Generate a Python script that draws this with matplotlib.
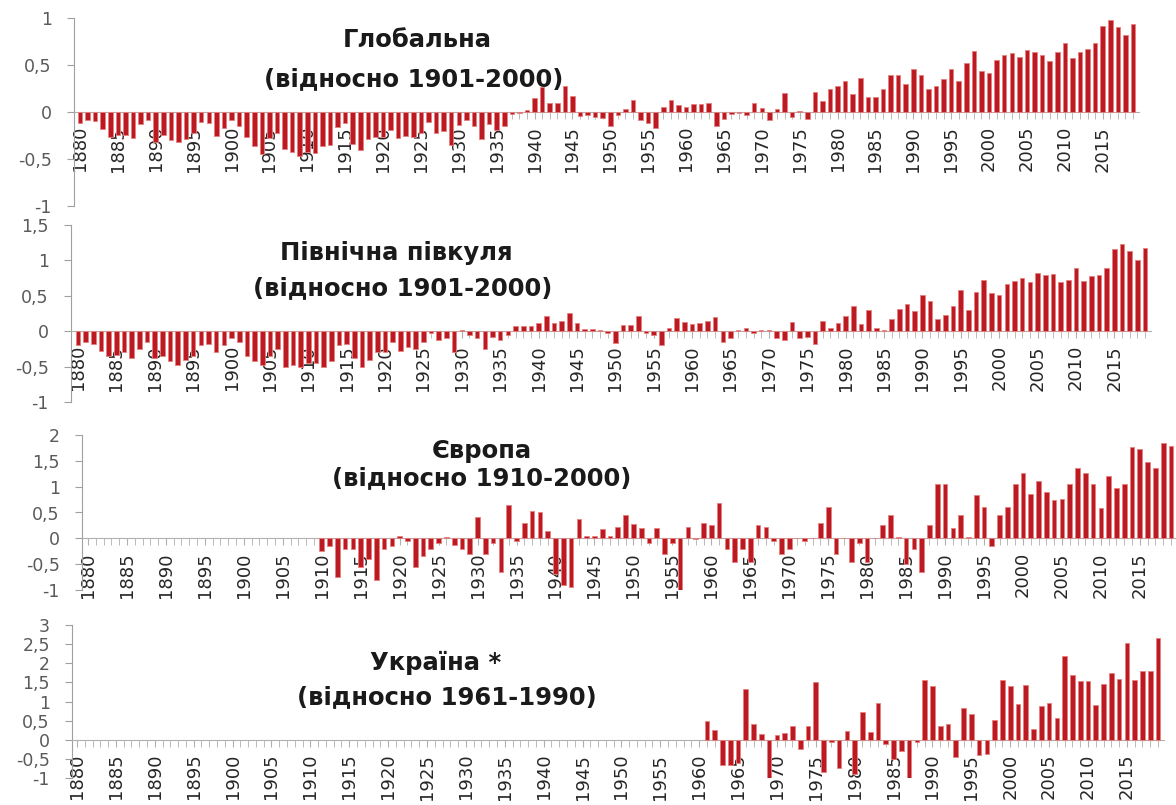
import numpy as np
import matplotlib.pyplot as plt
from matplotlib.ticker import MultipleLocator, FuncFormatter

years = np.arange(1880, 2020)

global_anom = [
    -0.12, -0.09, -0.10, -0.18, -0.27, -0.25, -0.24, -0.28, -0.13, -0.09,
    -0.32, -0.25, -0.30, -0.32, -0.29, -0.22, -0.11, -0.12, -0.26, -0.17,
    -0.08, -0.15, -0.27, -0.36, -0.45, -0.28, -0.22, -0.39, -0.43, -0.47,
    -0.43, -0.44, -0.36, -0.35, -0.16, -0.12, -0.34, -0.40, -0.29, -0.27,
    -0.27, -0.19, -0.28, -0.26, -0.27, -0.22, -0.11, -0.22, -0.20, -0.35,
    -0.14, -0.09, -0.15, -0.29, -0.13, -0.19, -0.15, -0.02, -0.01, 0.02,
    0.15, 0.27, 0.10, 0.10, 0.28, 0.17, -0.04, -0.03, -0.05, -0.06,
    -0.15, -0.03, 0.03, 0.13, -0.08, -0.12, -0.17, 0.05, 0.13, 0.07,
    0.05, 0.08, 0.09, 0.10, -0.15, -0.07, -0.02, -0.01, -0.03, 0.10,
    0.04, -0.08, 0.03, 0.20, -0.05, 0.01, -0.07, 0.21, 0.12, 0.24,
    0.28, 0.33, 0.19, 0.36, 0.16, 0.16, 0.24, 0.39, 0.39, 0.30,
    0.46, 0.39, 0.24, 0.28, 0.35, 0.46, 0.33, 0.52, 0.65, 0.44,
    0.42, 0.55, 0.61, 0.63, 0.59, 0.66, 0.64, 0.61, 0.54, 0.64,
    0.73, 0.57, 0.64, 0.67, 0.73, 0.92, 0.98, 0.90, 0.82, 0.94,
]

nh_anom = [
    -0.20, -0.15, -0.18, -0.28, -0.35, -0.33, -0.30, -0.38, -0.25, -0.15,
    -0.38, -0.35, -0.42, -0.48, -0.40, -0.35, -0.20, -0.18, -0.30, -0.20,
    -0.10, -0.15, -0.35, -0.42, -0.48, -0.35, -0.25, -0.50, -0.48, -0.50,
    -0.45, -0.45, -0.50, -0.42, -0.20, -0.18, -0.38, -0.50, -0.40, -0.30,
    -0.30, -0.15, -0.28, -0.22, -0.25, -0.15, -0.02, -0.12, -0.10, -0.30,
    0.02, -0.05, -0.10, -0.25, -0.08, -0.12, -0.05, 0.08, 0.08, 0.08,
    0.12, 0.22, 0.12, 0.15, 0.25, 0.12, 0.03, 0.03, 0.02, -0.02,
    -0.16, 0.09, 0.09, 0.22, -0.02, -0.05, -0.19, 0.05, 0.18, 0.13,
    0.10, 0.12, 0.14, 0.20, -0.15, -0.10, 0.02, 0.05, -0.02, 0.02,
    0.01, -0.10, -0.12, 0.13, -0.10, -0.08, -0.18, 0.15, 0.05, 0.12,
    0.22, 0.36, 0.10, 0.30, 0.05, 0.02, 0.17, 0.31, 0.39, 0.29,
    0.51, 0.42, 0.17, 0.23, 0.36, 0.58, 0.30, 0.55, 0.72, 0.54,
    0.51, 0.66, 0.71, 0.75, 0.70, 0.82, 0.79, 0.81, 0.69, 0.72,
    0.89, 0.71, 0.78, 0.80, 0.89, 1.16, 1.23, 1.13, 1.01, 1.17,
]

europe_years = np.arange(1910, 2020)
europe_anom = [
    -0.25, -0.15, -0.75, -0.20, -0.20, -0.55, -0.40, -0.80, -0.20, -0.15,
    0.05, -0.05, -0.55, -0.35, -0.20, -0.10, 0.02, -0.12, -0.20, -0.30,
    0.42, -0.30, -0.10, -0.65, 0.65, -0.05, 0.30, 0.52, 0.50, 0.15,
    -0.70, -0.90, -0.95, 0.38, 0.05, 0.05, 0.18, 0.05, 0.22, 0.45,
    0.28, 0.20, -0.10, 0.20, -0.30, -0.10, -1.00, 0.22, -0.02, 0.30,
    0.25, 0.68, -0.20, -0.45, -0.20, -0.45, 0.25, 0.22, -0.05, -0.30,
    -0.20, 0.00, -0.05, 0.00, 0.30, 0.60, -0.30, 0.00, -0.45, -0.10,
    -0.45, 0.00, 0.25, 0.45, 0.02, -0.50, -0.20, -0.65, 0.25, 1.05,
    1.05, 0.20, 0.45, 0.02, 0.83, 0.61, -0.15, 0.45, 0.60, 1.05,
    1.27, 0.85, 1.10, 0.89, 0.75, 0.77, 1.05, 1.37, 1.27, 1.05,
    0.59, 1.21, 0.97, 1.05, 1.77, 1.72, 1.47, 1.37, 1.84, 1.79,
]

ukraine_years = np.arange(1961, 2020)
ukraine_anom = [
    0.50, 0.25, -0.65, -0.65, -0.60, 1.32, 0.40, 0.15, -1.05,
    0.12, 0.18, 0.36, -0.25, 0.36, 1.50, -0.85, -0.05, -0.75, 0.22,
    -0.90, 0.72, 0.20, 0.95, -0.10, -0.50, -0.30, -1.05, -0.05, 1.55,
    1.40, 0.35, 0.42, -0.45, 0.82, 0.68, -0.40, -0.37, 0.52, 1.56,
    1.40, 0.93, 1.42, 0.28, 0.88, 0.95, 0.58, 2.18, 1.68, 1.53,
    1.53, 0.90, 1.47, 1.75, 1.60, 2.53, 1.56, 1.81, 1.81, 2.66,
]

titles = [
    ("Глобальна", "(відносно 1901-2000)"),
    ("Північна півкуля", "(відносно 1901-2000)"),
    ("Європа", "(відносно 1910-2000)"),
    ("Україна *", "(відносно 1961-1990)"),
]

W, H = 1176, 805
BAR = "#bb1a22"

# pixel layout: axis x, first bar x, last bar x, ylim, px of ymin / ymax,
# centres of the two title lines
panels = [
    dict(ax_x=74, x0=80, x1=1133, ylim=(-1, 1), py=(206, 18),
         t1=(417, 40), t2=(414, 79)),
    dict(ax_x=71, x0=78, x1=1145, ylim=(-1, 1.5), py=(402, 225),
         t1=(396, 253), t2=(403, 288)),
    dict(ax_x=82, x0=88, x1=1171, ylim=(-1, 2), py=(590, 435),
         t1=(482, 451), t2=(482, 478)),
    dict(ax_x=72, x0=77, x1=1158, ylim=(-1, 3), py=(778, 625),
         t1=(436, 663), t2=(447, 697)),
]
series = [
    (years, global_anom),
    (years, nh_anom),
    (europe_years, europe_anom),
    (ukraine_years, ukraine_anom),
]


def comma(v, pos):
    s = ("%g" % v).replace(".", ",")
    return "0" if s in ("-0", "0") else s


fig = plt.figure(figsize=(W / 100, H / 100), dpi=100)

for p, (xs, vals), (l1, l2) in zip(panels, series, titles):
    step = (p["x1"] - p["x0"]) / (2019 - 1880)
    xmin = 1880 - (p["x0"] - p["ax_x"]) / step
    xmax = 2019 + 0.8
    width_px = (xmax - xmin) * step
    bot_px, top_px = p["py"]
    ax = fig.add_axes([p["ax_x"] / W, 1 - bot_px / H,
                       width_px / W, (bot_px - top_px) / H])
    ax.bar(xs, vals, width=0.6, color=BAR, edgecolor="#e98080",
           linewidth=0.6, zorder=3)
    ax.set_xlim(xmin, xmax)
    ax.set_ylim(*p["ylim"])

    for side in ("top", "right"):
        ax.spines[side].set_visible(False)
    ax.spines["bottom"].set_position(("data", 0))
    ax.spines["bottom"].set_color("#b0b0b0")
    ax.spines["left"].set_color("#a0a0a0")
    ax.patch.set_alpha(0)

    ax.yaxis.set_major_locator(MultipleLocator(0.5))
    ax.yaxis.set_major_formatter(FuncFormatter(comma))
    ax.tick_params(axis="y", direction="out", length=5, color="#a0a0a0",
                   labelsize=12.5, labelcolor="#5a5a5a", pad=11)

    ax.set_xticks(np.arange(1880, 2020, 5))
    ax.xaxis.set_minor_locator(MultipleLocator(1))
    ax.tick_params(axis="x", which="both", direction="out", length=5,
                   color="#b0b0b0")
    ax.tick_params(axis="x", which="major", labelsize=13, labelrotation=90,
                   labelcolor="#262626", pad=5)
    for lab in ax.get_xticklabels():
        lab.set_va("top")

    fig.text(p["t1"][0] / W, 1 - p["t1"][1] / H, l1, ha="center", va="center",
             fontsize=17.5, fontweight="bold", color="#1a1a1a")
    fig.text(p["t2"][0] / W, 1 - p["t2"][1] / H, l2, ha="center", va="center",
             fontsize=17.5, fontweight="bold", color="#1a1a1a")

fig.savefig("out.png", dpi=100)
